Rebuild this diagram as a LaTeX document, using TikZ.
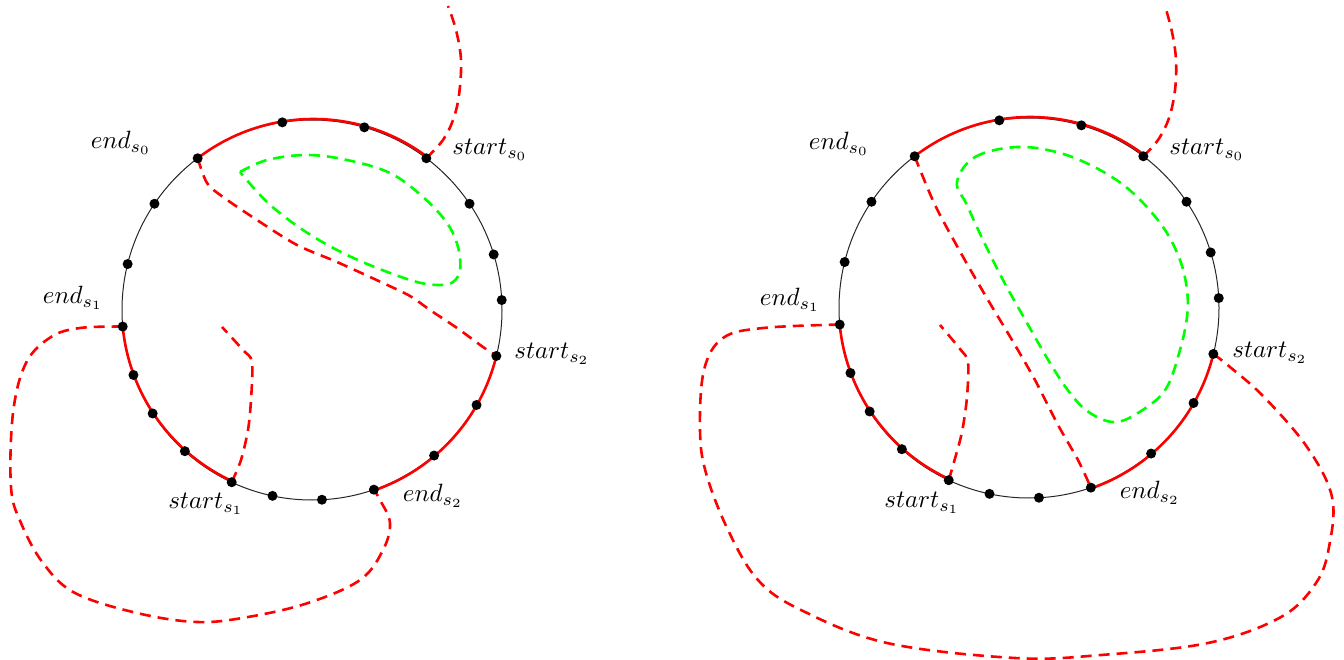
\documentclass[tikz,border=0pt]{standalone}
\pgfdeclarelayer{bg}
\pgfsetlayers{bg,main}
\begin{document}
\begin{tikzpicture}[x=1pt,y=1pt,
  ring/.style={circle,draw=black!85,line width=1pt,minimum size=380pt,inner sep=0pt,outer sep=0pt},
  dot/.style={circle,fill=black,inner sep=0pt,minimum size=10pt},
  redarc/.style={draw=red,line width=2.6pt},
  rdash/.style={draw=red,line width=2.6pt,dash pattern=on 11pt off 7pt},
  gdash/.style={draw=green,line width=2.6pt,dash pattern=on 11pt off 7pt},
  lbl/.style={scale=2.5,inner sep=0pt}]
\useasboundingbox (0,0) rectangle (1344,-660);
\begin{pgfonlayer}{bg}
  \node[ring] (LC) at (312,-310) {};
  \node[ring] (RC) at (1029,-308) {};
\end{pgfonlayer}
% dots
\foreach \a [count=\i] in {99.4,74.3,53.6,34.6,17.5,3.6,346.3,330.1,310.3,289.1,273,258.8,245.2,228.8,213.3,200.5,185.4,166.3,146.4,127.5}{
  \node[dot] (L\i) at (LC.\a) {};
  \node[dot] (R\i) at (RC.\a) {};
}
\begin{pgfonlayer}{bg}
  % red arcs, left
  \draw[redarc] (L20.center) arc[start angle=127.5,end angle=53.6,radius=190pt];
  \draw[redarc] (L7.center) arc[start angle=346.3,end angle=289.1,radius=190pt];
  \draw[redarc] (L17.center) arc[start angle=185.4,end angle=245.2,radius=190pt];
  % red arcs, right
  \draw[redarc] (R20.center) arc[start angle=127.5,end angle=53.6,radius=190pt];
  \draw[redarc] (R7.center) arc[start angle=346.3,end angle=289.1,radius=190pt];
  \draw[redarc] (R17.center) arc[start angle=185.4,end angle=245.2,radius=190pt];

  % left dashed curves
  \coordinate (LtopEnd) at (448,-6);
  \draw[rdash] plot[smooth,tension=0.6] coordinates {(L3.center) (443,-140) (453,-120) (459,-95) (461,-60) (456,-30) (LtopEnd)};
  \draw[rdash] plot[smooth,tension=0.5] coordinates {(L20.center) (207,-183) (223,-197) (257,-220) (297,-245) (337,-262) (383,-283) (410,-296) (430,-310) (457,-328) (483,-347) (L7.center)};
  \coordinate (LinEnd) at (222,-327);
  \draw[rdash] plot[smooth,tension=0.5] coordinates {(L13.center) (241,-460) (248,-430) (251,-400) (252,-362) (243,-350) (LinEnd)};
  \draw[rdash] plot[smooth,tension=0.6] coordinates {(L17.center) (80,-328) (51,-337) (26,-363) (13,-413) (11,-487) (21,-523) (43,-563) (75,-593) (137,-613) (197,-622) (248,-617) (308,-603) (360,-580) (383,-550) (390,-523) (380,-500) (L10.center)};
  \draw[gdash] plot[smooth,tension=0.6] coordinates {(240,-172) (267,-160) (307,-155) (347,-160) (390,-173) (423,-197) (447,-223) (458,-247) (460,-270) (453,-282) (440,-285) (417,-282) (377,-268) (337,-250) (300,-228) (267,-202) (240,-172)};

  % right dashed curves
  \coordinate (RtopEnd) at (1165,-6);
  \draw[rdash] plot[smooth,tension=0.6] coordinates {(R3.center) (1158,-140) (1169,-118) (1175,-90) (1176,-60) (1172,-32) (RtopEnd)};
  \draw[rdash] plot[smooth,tension=0.5] coordinates {(R20.center) (935,-205) (962,-255) (988,-300) (1012,-340) (1035,-380) (1058,-425) (1078,-460) (R10.center)};
  \coordinate (RinEnd) at (940,-325);
  \draw[rdash] plot[smooth,tension=0.5] coordinates {(R13.center) (954,-462) (962,-432) (967,-397) (968,-362) (960,-349) (RinEnd)};
  \draw[rdash] plot[smooth,tension=0.6] coordinates {(R17.center) (763,-328) (723,-338) (704,-370) (700,-430) (706,-473) (728,-530) (758,-580) (801,-610) (887,-643) (1015,-658) (1101,-655) (1208,-643) (1281,-617) (1316,-583) (1329,-547) (1332,-497) (1307,-447) (1264,-397) (1230,-367) (R7.center)};
  \draw[gdash] plot[smooth cycle,tension=0.6] coordinates {(957,-182) (975,-157) (1017,-147) (1060,-153) (1100,-170) (1133,-193) (1163,-227) (1180,-260) (1187,-290) (1187,-317) (1180,-350) (1167,-387) (1147,-407) (1117,-422) (1090,-413) (1070,-393) (1050,-363) (1027,-323) (1003,-280) (983,-240) (967,-205)};
\end{pgfonlayer}

% labels
\node[lbl] (Le0) at (121,-143) {$end_{s_0}$};
\node[lbl] (Ls0) at (490,-150) {$start_{s_0}$};
\node[lbl] (Le1) at (73,-298) {$end_{s_1}$};
\node[lbl] (Ls2) at (552,-354) {$start_{s_2}$};
\node[lbl] (Le2) at (433,-496) {$end_{s_2}$};
\node[lbl] (Ls1) at (206,-504) {$start_{s_1}$};
\node[lbl] (Re0) at (839,-144) {$end_{s_0}$};
\node[lbl] (Rs0) at (1207,-150) {$start_{s_0}$};
\node[lbl] (Re1) at (790,-300) {$end_{s_1}$};
\node[lbl] (Rs2) at (1270,-353) {$start_{s_2}$};
\node[lbl] (Re2) at (1150,-493) {$end_{s_2}$};
\node[lbl] (Rs1) at (922,-503) {$start_{s_1}$};
\end{tikzpicture}
\end{document}
